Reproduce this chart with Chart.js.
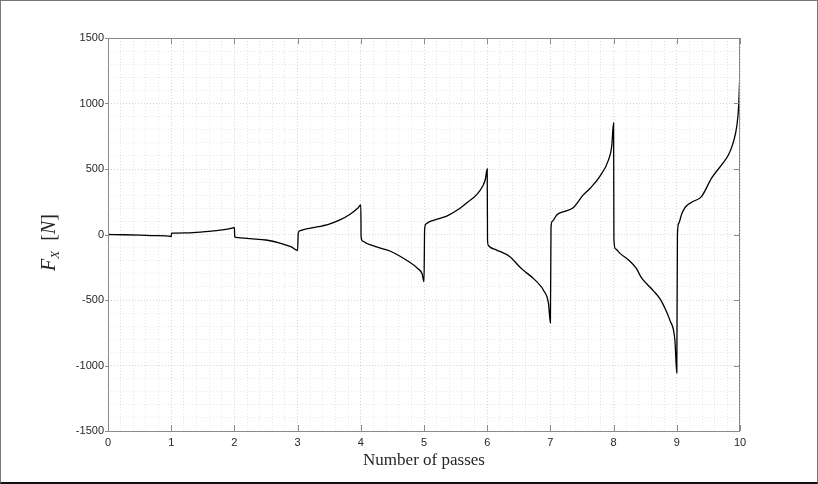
<!DOCTYPE html>
<html>
<head>
<meta charset="utf-8">
<script src="https://cdn.jsdelivr.net/npm/chart.js@4.4.1/dist/chart.umd.min.js"></script>
<style>
html, body { margin: 0; padding: 0; background: #fff; }
#wrap { position: relative; width: 818px; height: 484px; }
#frame { position: absolute; left: 0; top: 0; width: 818px; height: 484px; box-sizing: border-box;
         border: 1px solid #777; border-bottom: 2px solid #111; pointer-events: none; }
</style>
</head>
<body>
<div id="wrap">
  <canvas id="forceChart" width="818" height="484"></canvas>
  <div id="frame"></div>
</div>
<script>
// Number of passes vs. force F_X [N]
const passes = [
    0, 0.25, 0.5, 0.75, 0.99, 1.0,
    1.005, 1.25, 1.5, 1.75, 1.98, 2.0,
    2.005, 2.02, 2.25, 2.5, 2.72, 2.9, 3.0,
    3.01, 3.03, 3.1, 3.25, 3.5, 3.67, 3.83, 3.95, 4.0,
    4.005, 4.03, 4.09, 4.25, 4.46, 4.6, 4.72, 4.9, 4.97, 5.0,
    5.01, 5.03, 5.09, 5.2, 5.36, 5.57, 5.7, 5.83, 5.93, 5.97, 6.0,
    6.005, 6.02, 6.05, 6.15, 6.36, 6.5, 6.57, 6.73, 6.84, 6.89, 6.97, 7.0,
    7.01, 7.03, 7.1, 7.25, 7.36, 7.52, 7.63, 7.78, 7.92, 7.97, 8.0,
    8.005, 8.03, 8.1, 8.25, 8.36, 8.44, 8.52, 8.63, 8.73, 8.82, 8.89, 8.97, 9.0,
    9.01, 9.03, 9.08, 9.14, 9.25, 9.39, 9.55, 9.73, 9.82, 9.89, 9.95, 9.98, 10.0
];
const forceX = [
    0, -2, -5, -9, -15, -18,
    10, 13, 20, 32, 50, 55,
    -15, -22, -32, -42, -65, -95, -122,
    10, 28, 38, 52, 80, 111, 155, 200, 226,
    -20, -50, -67, -95, -126, -160, -195, -259, -300, -360,
    40, 80, 98, 115, 140, 200, 250, 302, 370, 420, 500,
    -40, -85, -98, -119, -170, -240, -272, -335, -390, -425, -527, -675,
    60, 100, 149, 180, 205, 302, 353, 442, 570, 672, 851,
    -40, -110, -144, -200, -259, -330, -374, -430, -488, -570, -654, -807, -1057,
    0, 85, 160, 212, 250, 289, 430, 545, 610, 698, 830, 990, 1266
];
const xTicks = [0, 1, 2, 3, 4, 5, 6, 7, 8, 9, 10];
const yTicks = [-1500, -1000, -500, 0, 500, 1000, 1500];

const axisColor = '#8a8a8a';
const textColor = '#262626';

function isMultiple(v, step) {
    const r = v / step;
    return Math.abs(r - Math.round(r)) < 1e-6;
}

// box, tick marks and the y title with its subscript
const decorPlugin = {
    id: 'decor',
    afterDraw(chart) {
        const ctx = chart.ctx;
        const a = chart.chartArea;
        const sx = chart.scales.x, sy = chart.scales.y;
        ctx.save();
        ctx.strokeStyle = axisColor;
        ctx.lineWidth = 1;
        ctx.strokeRect(a.left + 0.5, a.top + 0.5, a.right - a.left - 1, a.bottom - a.top);
        ctx.beginPath();
        xTicks.forEach(v => {
            const px = Math.round(sx.getPixelForValue(v)) + 0.5;
            ctx.moveTo(px, a.bottom); ctx.lineTo(px, a.bottom - 6);
            ctx.moveTo(px, a.top); ctx.lineTo(px, a.top + 6);
        });
        yTicks.forEach(v => {
            const py = Math.round(sy.getPixelForValue(v)) + 0.5;
            ctx.moveTo(a.left, py); ctx.lineTo(a.left - 3, py);
            ctx.moveTo(a.right, py); ctx.lineTo(a.right - 6, py);
        });
        ctx.stroke();

        // F_X [N]
        ctx.translate(55, 271);
        ctx.rotate(-Math.PI / 2);
        ctx.fillStyle = textColor;
        ctx.textBaseline = 'alphabetic';
        let x = 0;
        const parts = [
            { t: 'F', f: 'italic 20px "Liberation Serif"', dy: 0 },
            { t: 'X', f: 'italic 13px "Liberation Serif"', dy: 4 },
            { t: '  [', f: '20px "Liberation Serif"', dy: 0 },
            { t: 'N', f: 'italic 20px "Liberation Serif"', dy: 0 },
            { t: ']', f: '20px "Liberation Serif"', dy: 0 }
        ];
        parts.forEach(p => {
            ctx.font = p.f;
            ctx.fillText(p.t, x, p.dy);
            x += ctx.measureText(p.t).width;
        });
        ctx.restore();
    }
};

document.addEventListener('DOMContentLoaded', function() {
    const points = passes.map((p, i) => ({ x: p, y: forceX[i] }));
    const gridColor = step => (c => isMultiple(c.tick.value, step) ? 'rgba(0,0,0,0.16)' : 'rgba(0,0,0,0.10)');

    new Chart(document.getElementById('forceChart'), {
        type: 'line',
        data: {
            datasets: [{
                data: points,
                borderColor: '#000',
                borderWidth: 1.3,
                pointRadius: 0,
                fill: false,
                cubicInterpolationMode: 'monotone'
            }]
        },
        options: {
            responsive: false,
            animation: false,
            layout: { padding: { left: 0, top: 38, right: 78, bottom: 0 } },
            plugins: { legend: { display: false }, tooltip: { enabled: false } },
            scales: {
                x: {
                    type: 'linear', min: 0, max: 10,
                    afterFit(s) { s.height = 53; },
                    ticks: {
                        stepSize: 0.2, autoSkip: false, maxRotation: 0, padding: 5,
                        color: textColor, font: { family: 'Liberation Sans', size: 11 },
                        callback: v => isMultiple(v, 1) ? String(Math.round(v)) : ''
                    },
                    grid: { drawTicks: false, color: gridColor(1), lineWidth: 1 },
                    border: { display: false, dash: [1, 2] },
                    title: {
                        display: true, text: 'Number of passes', color: textColor,
                        font: { family: 'Liberation Serif', size: 17 },
                        padding: { top: 0, bottom: 13 }
                    }
                },
                y: {
                    min: -1500, max: 1500,
                    afterFit(s) { s.width = 108; },
                    ticks: {
                        stepSize: 100, autoSkip: false, padding: 4,
                        color: textColor, font: { family: 'Liberation Sans', size: 11 },
                        callback: v => isMultiple(v, 500) ? String(Math.round(v)) : ''
                    },
                    grid: { drawTicks: false, color: gridColor(500), lineWidth: 1 },
                    border: { display: false, dash: [1, 2] }
                }
            }
        },
        plugins: [decorPlugin]
    });
});
</script>
</body>
</html>
